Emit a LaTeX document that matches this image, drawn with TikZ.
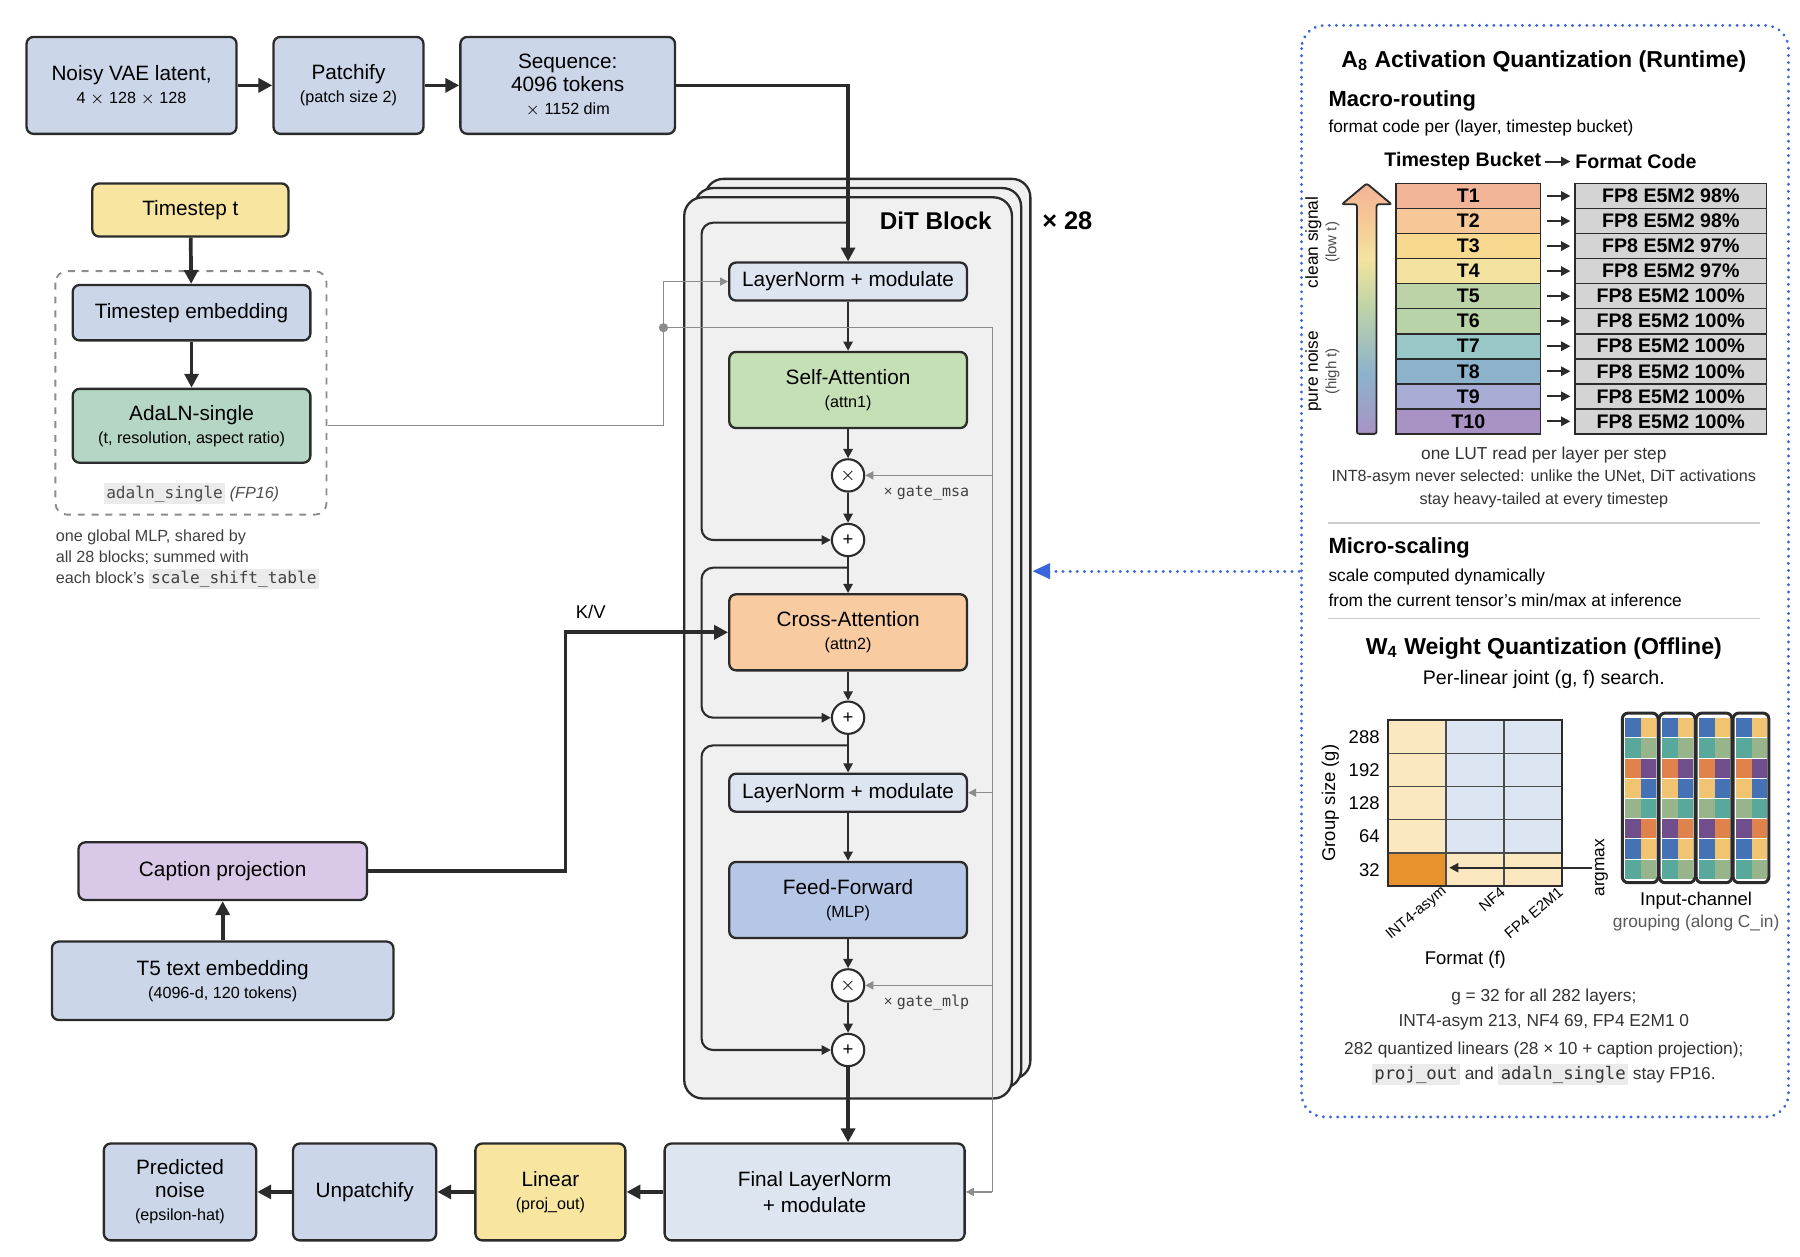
\documentclass[tikz,border=0pt]{standalone}
\usepackage{fontspec}
\setmainfont{Liberation Sans}
\setmonofont{DejaVu Sans Mono}
\usetikzlibrary{positioning,calc,arrows.meta}
\definecolor{boxblue}{HTML}{CCD6E9}
\definecolor{lnblue}{HTML}{DDE5F1}
\definecolor{tyellow}{HTML}{F8E6A0}
\definecolor{agreen}{HTML}{B5D5C5}
\definecolor{sagreen}{HTML}{C6E0B5}
\definecolor{caorange}{HTML}{F8CBA0}
\definecolor{ffblue}{HTML}{B5C6E7}
\definecolor{cppurple}{HTML}{DAC8E8}
\definecolor{blockbg}{HTML}{F0F0F0}
\definecolor{edge}{HTML}{2B2B2B}
\definecolor{gline}{HTML}{8C8C8C}
\definecolor{codebg}{HTML}{EBEBEB}
\definecolor{qblue}{HTML}{3A66DD}
\definecolor{fcgray}{HTML}{D4D4D4}
\definecolor{t1c}{HTML}{F2B497}\definecolor{t2c}{HTML}{F6C797}
\definecolor{t3c}{HTML}{F9D98F}\definecolor{t4c}{HTML}{F4E3A0}
\definecolor{t5c}{HTML}{BCD3A8}\definecolor{t6c}{HTML}{B8D3A8}
\definecolor{t7c}{HTML}{99C7C7}\definecolor{t8c}{HTML}{8DB2CC}
\definecolor{t9c}{HTML}{A8ABD4}\definecolor{t10c}{HTML}{A893C4}
\definecolor{gbeige}{HTML}{FBE8C0}\definecolor{glblue}{HTML}{DCE6F2}
\definecolor{gorange}{HTML}{E8922E}
\definecolor{cb}{HTML}{4472B4}\definecolor{cy}{HTML}{F0C470}
\definecolor{ct}{HTML}{58A89C}\definecolor{cs}{HTML}{98B48A}
\definecolor{co}{HTML}{E0824C}\definecolor{cp}{HTML}{704E8C}
\pgfdeclareverticalshading{tgrad}{100bp}{color(0bp)=(t10c); color(25bp)=(t10c); color(37bp)=(t8c); color(50bp)=(t5c); color(60bp)=(t4c); color(68bp)=(t2c); color(75bp)=(t1c); color(100bp)=(t1c)}
\newcommand{\cd}[1]{{\setlength{\fboxsep}{1pt}\colorbox{codebg}{\ttfamily #1}}}
\newcommand{\sub}[1]{\\[-1pt]{\fontsize{7}{8}\selectfont #1}}
\tikzset{
  box/.style={draw=edge, line width=1pt, rounded corners=3pt, align=center, inner sep=1pt,
    font=\fontsize{9}{11}\selectfont},
  flow/.style={-{Triangle[length=6pt,width=6pt]}, line width=1.6pt, draw=edge},
  thin flow/.style={-{Triangle[length=4pt,width=4pt]}, line width=0.9pt, draw=edge},
  gate/.style={-{Triangle[length=3.5pt,width=3.5pt]}, line width=0.6pt, draw=gline},
  op/.style={circle, draw=edge, fill=white, line width=0.9pt, minimum size=14pt, inner sep=0pt,
    font=\fontsize{8}{8}\selectfont},
  note/.style={font=\fontsize{7}{9}\selectfont, text=black!75, align=left, inner sep=0pt},
  trow/.style={draw=edge, line width=0.7pt, minimum width=62.5pt, minimum height=10.85pt,
    inner sep=0pt, font=\bfseries\fontsize{8.5}{9}\selectfont},
  frow/.style={trow, fill=fcgray, minimum width=83pt},
}
\begin{document}
\begin{tikzpicture}[x=0.5pt,y=-0.5pt]
\useasboundingbox (0,0) rectangle (1560,1089);
% input chain
\node[box, fill=boxblue, minimum width=91pt, minimum height=42pt] (vae) at (114,74) {Noisy VAE latent,\sub{4 $\times$ 128 $\times$ 128}};
\node[box, fill=boxblue, minimum width=65pt, minimum height=42pt] (patch) at (302,74) {Patchify\sub{(patch size 2)}};
\node[box, fill=boxblue, minimum width=93pt, minimum height=42pt] (seq) at (492,74) {Sequence:\\[-1pt]4096 tokens\sub{$\times$ 1152 dim}};
\draw[flow] (vae) -- (patch);
\draw[flow] (patch) -- (seq);
% timestep branch
\node[box, fill=tyellow, minimum width=85pt, minimum height=23pt] (tstep) at (165,182) {Timestep t};
\draw[dashed, draw=gline, line width=0.8pt, rounded corners=5pt] (48,235) rectangle (283,446);
\node[box, fill=boxblue, minimum width=103pt, minimum height=24pt] (temb) at (166,271) {Timestep embedding};
\node[box, fill=agreen, minimum width=103pt, minimum height=32pt] (adaln) at (166,369) {AdaLN-single\sub{(t, resolution, aspect ratio)}};
\node[font=\fontsize{7}{8}\selectfont, text=black!70] (adlab) at (166,428) {\cd{adaln\_single} \textit{(FP16)}};
\draw[flow] (tstep) -- (temb);
\draw[flow] (temb) -- (adaln);
\node[note, anchor=north west] (adnote) at (48,459) {one global MLP, shared by\\all 28 blocks; summed with\\each block's \cd{scale\_shift\_table}};
% DiT block stack
\draw[draw=edge, fill=blockbg, line width=1pt, rounded corners=8pt] (611,155) rectangle (893,935);
\draw[draw=edge, fill=blockbg, line width=1pt, rounded corners=8pt] (602,163) rectangle (885,943);
\draw[draw=edge, fill=blockbg, line width=1pt, rounded corners=8pt] (593,171) rectangle (877,952);
\node[font=\bfseries\fontsize{10.5}{12}\selectfont] (ditlab) at (811,191) {DiT Block};
\node[font=\bfseries\fontsize{11}{12}\selectfont] (rep) at (925,191) {× 28};
\node[box, fill=lnblue, minimum width=103pt, minimum height=16.5pt] (ln1) at (735,244) {LayerNorm + modulate};
\node[box, fill=sagreen, minimum width=103pt, minimum height=33pt] (sa) at (735,338) {Self-Attention\sub{(attn1)}};
\node[op] (m1) at (735,412) {$\times$};
\node[op] (p1) at (735,468) {+};
\node[box, fill=caorange, minimum width=103pt, minimum height=33pt] (ca) at (735,548) {Cross-Attention\sub{(attn2)}};
\node[op] (p2) at (735,622) {+};
\node[box, fill=lnblue, minimum width=103pt, minimum height=16.5pt] (ln2) at (735,687) {LayerNorm + modulate};
\node[box, fill=ffblue, minimum width=103pt, minimum height=33pt] (ff) at (735,780) {Feed-Forward\sub{(MLP)}};
\node[op] (m2) at (735,854) {$\times$};
\node[op] (p3) at (735,910) {+};
\node[font=\fontsize{6.5}{8}\selectfont, text=black!75] (gmsa) at (803,427) {× \texttt{gate\_msa}};
\node[font=\fontsize{6.5}{8}\selectfont, text=black!75] (gmlp) at (803,869) {× \texttt{gate\_mlp}};
% output chain
\node[box, fill=lnblue, minimum width=130pt, minimum height=42pt] (fln) at (706,1033) {Final LayerNorm\\+ modulate};
\node[box, fill=tyellow, minimum width=65pt, minimum height=42pt] (lin) at (477,1033) {Linear\sub{(proj\_out)}};
\node[box, fill=boxblue, minimum width=62pt, minimum height=42pt] (unp) at (316,1033) {Unpatchify};
\node[box, fill=boxblue, minimum width=66pt, minimum height=42pt] (pred) at (156,1033) {Predicted\\[-1pt]noise\sub{(epsilon-hat)}};
% caption branch
\node[box, fill=cppurple, minimum width=125pt, minimum height=25pt] (cap) at (193,755) {Caption projection};
\node[box, fill=boxblue, minimum width=148pt, minimum height=34pt] (t5) at (193,850) {T5 text embedding\sub{(4096-d, 120 tokens)}};
\draw[flow] (t5) -- (cap);
\node[font=\fontsize{8}{9}\selectfont] (kv) at (512,530) {K/V};
\draw[flow] (cap.east) -- (490,755) -- (490,548) -- (ca.west);
% main path
\draw[flow] (seq.east) -- (735,74) -- (ln1.north);
\draw[thin flow] (ln1) -- (sa);
\draw[thin flow] (sa) -- (m1);
\draw[thin flow] (m1) -- (p1);
\draw[thin flow] (p1) -- (ca);
\draw[thin flow] (ca) -- (p2);
\draw[thin flow] (p2) -- (ln2);
\draw[thin flow] (ln2) -- (ff);
\draw[thin flow] (ff) -- (m2);
\draw[thin flow] (m2) -- (p3);
\draw[flow] (p3) -- (p3 |- fln.north);
\draw[flow] (fln) -- (lin);
\draw[flow] (lin) -- (unp);
\draw[flow] (unp) -- (pred);
% residuals
\draw[thin flow, rounded corners=5pt] (735,193) -- (608,193) -- (608,468) -- (p1.west);
\draw[thin flow, rounded corners=5pt] (735,492) -- (608,492) -- (608,622) -- (p2.west);
\draw[thin flow, rounded corners=5pt] (735,646) -- (608,646) -- (608,910) -- (p3.west);
% conditioning lines
\draw[gate] (adaln.east) ++(14,0) -- (575,369) -- (575,244) -- (ln1.west);
\fill[gline] (575,284) circle (2pt);
\draw[draw=gline, line width=0.6pt] (575,284) -- (860,284) -- (860,1033);
\draw[gate] (860,412) -- (m1.east);
\draw[gate] (860,687) -- (ln2.east);
\draw[gate] (860,854) -- (m2.east);
\draw[gate] (860,1033) -- (fln.east);
% right panel
\draw[draw=qblue, line width=1.3pt, dash pattern=on 0.1pt off 3pt, line cap=round, rounded corners=10pt] (1128,22) rectangle (1550,968);
\coordinate (qin) at (1126,495);
\draw[draw=qblue, line width=1.3pt, dash pattern=on 0.1pt off 3pt, line cap=round] (qin) -- (908,495);
\fill[qblue] (895,495) -- (910,488) -- (910,502) -- cycle;
\node[font=\bfseries\fontsize{10}{12}\selectfont] (atitle) at (1338,53) {A\textsubscript{8} Activation Quantization (Runtime)};
\node[font=\bfseries\fontsize{9.5}{11}\selectfont, anchor=west, inner sep=0pt] (macro) at (1151,87) {Macro-routing};
\node[font=\fontsize{7.5}{9}\selectfont, anchor=west, inner sep=0pt] (macrod) at (1151,111) {format code per (layer, timestep bucket)};
\node[font=\bfseries\fontsize{8.5}{10}\selectfont, anchor=east, inner sep=0pt] (hdt) at (1336,140) {Timestep Bucket};
\node[font=\bfseries\fontsize{8.5}{10}\selectfont, anchor=west, inner sep=0pt] (hdf) at (1365,140) {Format Code};
\draw[thin flow] (hdt.east) ++(3,0) -- ++(22,0);
\foreach \i/\fc in {1/98,2/98,3/97,4/97,5/100,6/100,7/100,8/100,9/100,10/100}{
  \node[trow, fill=t\i c] (t\i) at (1272.5,{159+21.7*(\i-0.5)}) {T\i};
  \node[frow] (f\i) at (1448,{159+21.7*(\i-0.5)}) {FP8 E5M2 \fc\%};
  \draw[thin flow] (1341,{159+21.7*(\i-0.5)}) -- (1361,{159+21.7*(\i-0.5)});
}
\shade[shading=tgrad, draw=edge, line width=0.8pt, rounded corners=1pt] (1176,376) -- (1176,177) -- (1163,177) -- (1184.5,159) -- (1206,177) -- (1193,177) -- (1193,376) -- cycle;
\node[rotate=90, align=center, font=\fontsize{7.5}{8}\selectfont, inner sep=0pt] (clean) at (1146,210) {clean signal\\{\fontsize{6.5}{8}\selectfont\color{black!70}(low t)}};
\node[rotate=90, align=center, font=\fontsize{7.5}{8}\selectfont, inner sep=0pt] (noise) at (1146,322) {pure noise\\{\fontsize{6.5}{8}\selectfont\color{black!70}(high t)}};
\node[font=\fontsize{7.5}{9}\selectfont, text=black!80] (lut) at (1338,394) {one LUT read per layer per step};
\node[font=\fontsize{7}{10}\selectfont, text=black!80, align=center] (int8) at (1338,424) {INT8-asym never selected: unlike the UNet, DiT activations\\stay heavy-tailed at every timestep};
\draw[draw=black!20, line width=0.7pt] (1151,453) -- (1525,453);
\node[font=\bfseries\fontsize{9.5}{11}\selectfont, anchor=west, inner sep=0pt] (micro) at (1151,475) {Micro-scaling};
\node[font=\fontsize{7.5}{10.5}\selectfont, anchor=north west, inner sep=0pt, align=left] (microd) at (1151,493) {scale computed dynamically\\from the current tensor's min/max at inference};
\draw[draw=black!20, line width=0.7pt] (1151,536) -- (1525,536);
\node[font=\bfseries\fontsize{10}{12}\selectfont] (wtitle) at (1338,562) {W\textsubscript{4} Weight Quantization (Offline)};
\node[font=\fontsize{8.5}{10}\selectfont] (wsub) at (1338,589) {Per-linear joint (g, f) search.};
% search grid
\foreach \r/\g in {0/288,1/192,2/128,3/64,4/32}{
  \node[font=\fontsize{8}{9}\selectfont, anchor=east, inner sep=0pt] (g\r) at (1196,{638.5+28.8*\r}) {\g};
  \foreach \c in {0,1,2}{
    \pgfmathsetmacro{\cc}{\r==4 ? (\c==0 ? "gorange" : "gbeige") : (\c==0 ? "gbeige" : "glblue")}
    \draw[draw=edge!85, line width=0.6pt, fill=\cc] ({1203+50.3*\c},{624+28.8*\r}) rectangle ++(50.3,28.8);
  }
}
\draw[draw=edge, line width=0.9pt] (1203,624) rectangle (1354,768);
\foreach \c/\f in {0/INT4-asym,1/NF4,2/FP4 E2M1}{
  \node[rotate=40, anchor=east, font=\fontsize{6.5}{8}\selectfont, inner sep=0pt] (fl\c) at ({1203+50.3*(\c+1)-1},771) {\f};
}
\node[rotate=90, font=\fontsize{8}{9}\selectfont] (gsz) at (1153,696) {Group size (g)};
\node[font=\fontsize{8}{9}\selectfont] (fmt) at (1270,832) {Format (f)};
\coordinate (amx) at (1380,752);
\draw[thin flow] (amx) -- (1256,752);
\node[rotate=90, font=\fontsize{7.5}{9}\selectfont] (argmax) at (1388,752) {argmax};
% channel grouping
\foreach \k in {0,1,2,3}{
  \foreach \r/\a/\b in {0/cb/cy,1/ct/cs,2/co/cp,3/cy/cb,4/cs/ct,5/cp/co,6/cb/cy,7/ct/cs}{
    \fill[\a] ({1408+32*\k},{622+17.5*\r}) rectangle ++(14,17.5);
    \fill[\b] ({1422+32*\k},{622+17.5*\r}) rectangle ++(14,17.5);
    \draw[white, line width=0.4pt] ({1408+32*\k},{622+17.5*\r}) rectangle ++(28,17.5);
  }
  \draw[draw=edge, line width=1.3pt, rounded corners=2.5pt] ({1406+32*\k},618) rectangle ++(31,147);
}
\node[font=\fontsize{8}{9}\selectfont] (ich) at (1470,781) {Input-channel};
\node[font=\fontsize{7.5}{9}\selectfont, text=black!65] (ichd) at (1470,800) {grouping (along C\_in)};
\node[font=\fontsize{7.5}{10.5}\selectfont, text=black!80, align=center] (gres) at (1338,875) {g = 32 for all 282 layers;\\INT4-asym 213, NF4 69, FP4 E2M1 0};
\node[font=\fontsize{7.5}{10.5}\selectfont, text=black!80, align=center] (qres) at (1338,922) {282 quantized linears (28 × 10 + caption projection);\\\cd{proj\_out} and \cd{adaln\_single} stay FP16.};
\end{tikzpicture}
\end{document}
